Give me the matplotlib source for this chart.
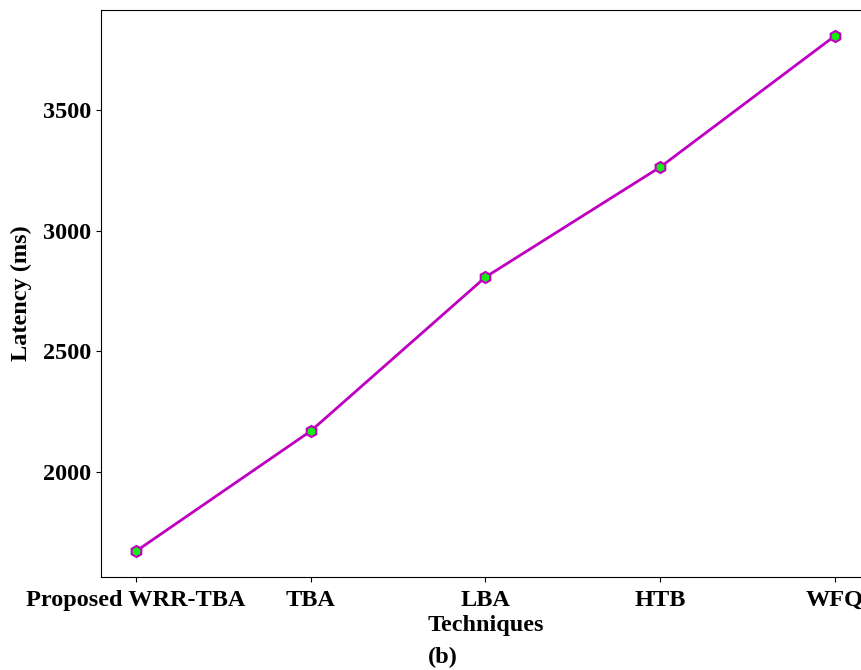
import matplotlib
matplotlib.use('Agg')
import matplotlib.pyplot as plt

techniques = ['Proposed WRR-TBA', 'TBA', 'LBA', 'HTB', 'WFQ']
latency = [1672, 2170, 2808, 3264, 3808]

plt.rcParams['font.family'] = ['Liberation Serif', 'DejaVu Serif']
plt.rcParams['font.weight'] = 'bold'

fig = plt.figure(figsize=(8.61, 6.70), dpi=100)
ax = fig.add_axes([101/861, 1-577/670, 769/861, 567/670])

ax.plot(techniques, latency, color='#c000c0', linewidth=2, marker='h',
        markersize=8, markerfacecolor='#11ee11', markeredgecolor='#c000c0', markeredgewidth=1.5)

ax.set_yticks([2000, 2500, 3000, 3500])
ax.tick_params(labelsize=17.5)
ax.tick_params(axis='x', pad=6)
for lbl in ax.get_xticklabels() + ax.get_yticklabels():
    lbl.set_fontweight('bold')
ax.set_xlabel('Techniques', fontsize=17.5, fontweight='bold', labelpad=3)
ax.set_ylabel('Latency (ms)', fontsize=17.5, fontweight='bold', labelpad=8)
fig.text(443/861, 1-657/670, '(b)', ha='center', va='center', fontsize=17.5, fontweight='bold')

fig.savefig('out.png', dpi=100)
